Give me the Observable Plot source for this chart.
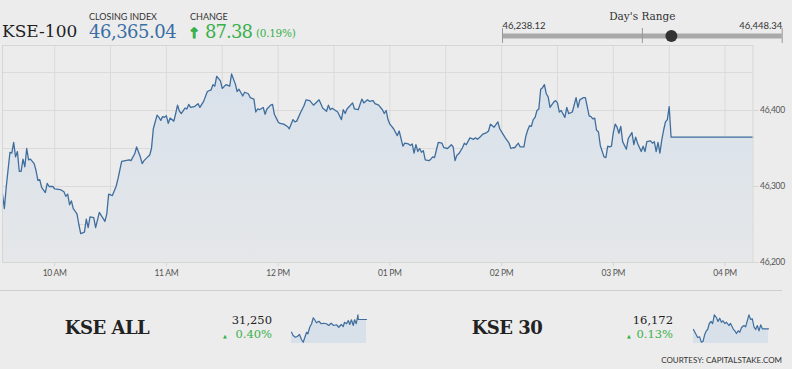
<!DOCTYPE html>
<html><head><meta charset="utf-8">
<script src="https://cdn.jsdelivr.net/npm/d3@7"></script>
<script src="https://cdn.jsdelivr.net/npm/@observablehq/plot@0.6"></script>
<style>
html,body{margin:0;padding:0;background:#ececec;}
#wrap{position:relative;width:792px;height:369px;overflow:hidden;background:#ececec;}
.main [aria-label^="x-axis"] path,.main [aria-label^="x-axis"] line,
.main [aria-label^="y-axis"] path,.main [aria-label^="y-axis"] line{stroke:#d4d4d4;}
.main text{letter-spacing:-0.3px;}
</style></head>
<body><div id="wrap"></div>
<script>
// ---- KSE-100 intraday (minutes after 09:30, index level) ----
const minutesFromOpen = [2,3,4,6,7,8,9,10,11,12,13,14,15,16,17,19,20,21,22,23,25,26,27,29,30,33,35,36,37,38,39,40,42,43,44,46,47,48,49,51,52,54,57,58,59,61,63,64,66,70,71,73,74,76,77,78,80,81,82,83,85,86,87,88,89,90,91,92,94,95,96,97,98,100,101,102,103,105,107,108,110,112,114,115,116,117,119,120,122,124,125,127,128,129,131,132,134,135,137,138,139,140,142,143,144,146,147,148,150,151,153,155,156,158,159,160,162,164,165,167,169,172,174,176,177,178,179,182,184,185,186,187,190,191,193,195,196,198,199,201,202,204,206,207,208,209,210,211,212,214,215,217,218,220,221,222,223,224,225,226,227,228,229,231,232,233,234,235,236,238,239,241,243,244,245,246,247,249,250,251,253,255,256,257,258,260,262,263,264,266,268,269,271,272,274,275,276,277,279,280,282,283,284,285,286,287,288,289,290,291,292,293,294,295,296,298,299,300,301,302,304,305,306,308,310,311,312,314,315,317,318,319,320,321,322,323,325,326,327,328,329,330,331,332,333,334,335,337,338,340,341,342,343,345,346,347,348,350,351,352,353,354,355,356,357,358,359,360,361];
const kse100 = [46290,46271,46299,46345,46344,46358,46339,46346,46320,46320,46336,46326,46350,46335,46336,46330,46321,46308,46309,46299,46292,46304,46300,46300,46297,46296,46293,46287,46290,46276,46281,46271,46264,46250,46238,46240,46257,46246,46260,46259,46246,46266,46254,46264,46290,46288,46300,46310,46333,46335,46334,46343,46352,46339,46330,46334,46339,46341,46350,46376,46394,46391,46387,46392,46391,46393,46383,46390,46386,46396,46407,46399,46396,46403,46402,46408,46404,46405,46409,46404,46412,46425,46427,46434,46432,46445,46439,46429,46434,46432,46448,46435,46425,46428,46419,46424,46422,46417,46415,46398,46402,46401,46404,46395,46402,46407,46408,46395,46385,46383,46382,46379,46376,46388,46385,46386,46397,46407,46414,46413,46407,46414,46403,46399,46407,46401,46403,46398,46388,46401,46396,46402,46410,46402,46401,46415,46410,46414,46412,46413,46409,46407,46401,46396,46400,46388,46382,46379,46376,46367,46373,46353,46357,46356,46354,46356,46344,46355,46346,46350,46345,46347,46335,46334,46336,46339,46338,46348,46358,46357,46351,46350,46355,46352,46334,46341,46343,46351,46357,46355,46364,46362,46364,46362,46364,46369,46371,46373,46382,46378,46385,46376,46368,46364,46357,46350,46351,46351,46357,46352,46352,46366,46374,46380,46379,46388,46391,46400,46402,46428,46430,46434,46422,46418,46404,46411,46413,46410,46398,46400,46391,46404,46396,46398,46417,46404,46414,46417,46417,46393,46392,46389,46390,46374,46372,46354,46339,46338,46353,46352,46353,46371,46382,46378,46370,46379,46359,46349,46363,46371,46355,46365,46357,46346,46353,46346,46359,46360,46357,46359,46346,46358,46344,46361,46374,46385,46388,46405,46365.04];
const sessionEnd = 405;          // 16:15, right edge of the chart
const closingIndex = 46365.04;
const change = 87.38, changePct = 0.19;
const dayLow = 46238.12, dayHigh = 46448.34;
const yTicks = [46200, 46300, 46400];
const yGrid = [46250, 46300, 46350, 46400, 46450];

// ---- KSE ALL sparkline ----
const kseAllMinutes = [2,11,23,33,45,56,65,74,83,90,100,110,119,127,136,149,162,176,190,202,215,229,244,256,269,280,287,298,307,315,324,334,341,350,359,361,405];
const kseAllValues = [31199,31186,31179,31182,31190,31169,31159,31179,31199,31193,31219,31233,31257,31249,31237,31243,31233,31235,31233,31226,31235,31226,31229,31219,31230,31222,31239,31233,31246,31230,31249,31226,31249,31233,31269,31250,31250];
const kseAllClose = 31250, kseAllPct = 0.40;

// ---- KSE 30 sparkline ----
const kse30Minutes = [2,13,24,35,44,53,62,71,78,87,96,105,114,125,134,143,152,161,170,179,192,201,215,224,233,242,251,260,273,282,291,300,309,318,327,336,345,354,363,372,405];
const kse30Values = [16171,16165,16159,16160,16152,16153,16163,16169,16171,16180,16183,16180,16193,16189,16183,16188,16182,16184,16180,16182,16177,16180,16172,16169,16165,16169,16167,16174,16177,16175,16184,16193,16186,16187,16175,16171,16177,16169,16178,16172,16172];
const kse30Close = 16172, kse30Pct = 0.13;

const green = "#39b04a";
const lineBlue = "#3f6e9e";
const wrap = document.getElementById("wrap");
const time = m => new Date(Date.UTC(2019, 0, 1, 9, 30 + m));
function place(node, left, top, cls) {
  node.style.position = "absolute"; node.style.left = left + "px"; node.style.top = top + "px";
  if (cls) node.classList.add(cls);
  wrap.appendChild(node);
}

// ---- Main chart ----
const pts = minutesFromOpen.map((m, i) => ({date: time(m), value: kse100[i]}));
pts.push({date: time(sessionEnd), value: closingIndex});
const xGrid = d3.utcMinute.every(30).range(time(30), time(391));
const hours = d3.utcHour.range(time(30), time(391));
const main = Plot.plot({
  width: 792, height: 285, marginTop: 45, marginBottom: 23, marginLeft: 2, marginRight: 39.5,
  style: {background: "transparent", fontFamily: "Lato", fontSize: "8.5px", color: "#555", overflow: "visible"},
  x: {type: "utc", domain: [time(minutesFromOpen[0]), time(sessionEnd)], ticks: hours,
      tickFormat: d3.utcFormat("%I %p"), tickSize: 4, tickPadding: 3, label: null},
  y: {domain: [46200, 46485.5], axis: "right", ticks: yTicks, tickFormat: d3.format(","),
      tickSize: 5, tickPadding: 2, label: null},
  marks: [
    Plot.ruleY(yGrid, {stroke: "#dadada"}),
    Plot.ruleX(xGrid, {stroke: "#dadada"}),
    Plot.areaY(pts, {x: "date", y1: 46200, y2: "value", fill: "url(#kseFill)"}),
    Plot.line(pts, {x: "date", y: "value", stroke: lineBlue, strokeWidth: 1.3}),
    Plot.frame({stroke: "#d6d6d6"})
  ]
});
d3.select(main).insert("defs", ":first-child").html(
  '<linearGradient id="kseFill" x1="0" y1="0" x2="0" y2="1"><stop offset="0" stop-color="#d8e1eb"/><stop offset="1" stop-color="#e5e7e9"/></linearGradient>');
place(main, 0, 0, "main");

// ---- Day's range ----
const rangeChart = Plot.plot({
  width: 792, height: 48, marginTop: 28, marginBottom: 5, marginLeft: 502, marginRight: 10.3,
  style: {background: "transparent", overflow: "visible"},
  x: {domain: [dayLow, dayHigh], axis: null},
  y: {domain: [-1, 1], axis: null},
  marks: [
    Plot.ruleY([0], {x1: dayLow, x2: dayHigh, stroke: "#a9a9a9", strokeWidth: 5}),
    Plot.tickX([dayLow, (dayLow + dayHigh) / 2, dayHigh], {x: d => d, stroke: "#999"}),
    Plot.dot([closingIndex], {x: d => d, r: 6, fill: "#333", stroke: "none"}),
    Plot.text([dayLow], {x: d => d, frameAnchor: "top", dy: -6, text: d => d3.format(",.2f")(d), textAnchor: "start", fontFamily: "Lato", fontSize: 9.5, fill: "#333"}),
    Plot.text([dayHigh], {x: d => d, frameAnchor: "top", dy: -6, text: d => d3.format(",.2f")(d), textAnchor: "end", fontFamily: "Lato", fontSize: 9.5, fill: "#333"}),
    Plot.text([(dayLow + dayHigh) / 2], {x: d => d, frameAnchor: "top", dy: -15.5, text: () => "Day's Range", fontFamily: "DejaVu Serif", fontSize: 10.5, fill: "#333"})
  ]
});
place(rangeChart, 0, 0);

// ---- Sparklines ----
function spark(mins, vals, domain) {
  const d = mins.map((m, i) => ({date: time(m), value: vals[i]}));
  return Plot.plot({
    width: 75, height: 30, margin: 0,
    style: {background: "transparent", overflow: "visible"},
    x: {type: "utc", domain: [time(mins[0]), time(sessionEnd)], axis: null},
    y: {domain, axis: null},
    marks: [
      Plot.areaY(d, {x: "date", y1: domain[0], y2: "value", fill: "#d8e0e9"}),
      Plot.line(d, {x: "date", y: "value", stroke: lineBlue, strokeWidth: 1.2})
    ]
  });
}
place(spark(kseAllMinutes, kseAllValues, [31154, 31274]), 291, 313);
place(spark(kse30Minutes, kse30Values, [16150, 16195]), 693, 313);

// ---- Text overlay ----
const ov = d3.select(wrap).append("svg").attr("width", 792).attr("height", 369)
  .style("position", "absolute").style("left", 0).style("top", 0).style("pointer-events", "none");
function txt(x, y, s, o = {}) {
  const t = ov.append("text").attr("x", x).attr("y", y).text(s)
    .attr("font-family", o.f || "DejaVu Serif").attr("font-size", o.s || 12)
    .attr("font-weight", o.w || "normal").attr("fill", o.c || "#222")
    .attr("text-anchor", o.a || "start").attr("letter-spacing", o.ls || 0);
  if (o.sw) t.attr("stroke", o.c).attr("stroke-width", o.sw);
}
txt(2, 37, "KSE-100", {s: 17, c: "#1f1f1f"});
txt(89, 20, "CLOSING INDEX", {f: "Lato", s: 9, c: "#333"});
txt(89, 38, d3.format(",.2f")(closingIndex), {s: 18, c: "#3a6ea5", ls: -0.5});
txt(190, 20, "CHANGE", {f: "Lato", s: 9, c: "#333"});
txt(194, 37.5, "\u2191", {f: "DejaVu Sans", s: 14, w: "bold", a: "middle", c: green, sw: 1.1});
txt(205, 38, d3.format(".2f")(change), {s: 18, c: green, ls: -0.9});
txt(256, 36.5, "(" + d3.format(".2f")(changePct) + "%)", {s: 10.5, c: green, ls: -0.3});

ov.append("line").attr("x1", 0).attr("x2", 782).attr("y1", 290.5).attr("y2", 290.5).attr("stroke", "#cfcfcf");
txt(107, 334, "KSE ALL", {s: 18, w: "bold", a: "middle", ls: -0.5});
txt(272, 324, d3.format(",")(kseAllClose), {s: 11.5, a: "end"});
txt(225, 338, "\u25B2", {f: "DejaVu Sans", s: 5, a: "middle", c: green});
txt(272, 338.3, d3.format(".2f")(kseAllPct) + "%", {s: 11.5, a: "end", c: green});
txt(507, 334, "KSE 30", {s: 18, w: "bold", a: "middle", ls: -0.5});
txt(673, 324, d3.format(",")(kse30Close), {s: 11.5, a: "end"});
txt(629, 338, "\u25B2", {f: "DejaVu Sans", s: 5, a: "middle", c: green});
txt(673, 338.3, d3.format(".2f")(kse30Pct) + "%", {s: 11.5, a: "end", c: green});
txt(782, 362.5, "COURTESY: CAPITALSTAKE.COM", {f: "Lato", s: 8, a: "end", c: "#333"});
</script></body></html>
